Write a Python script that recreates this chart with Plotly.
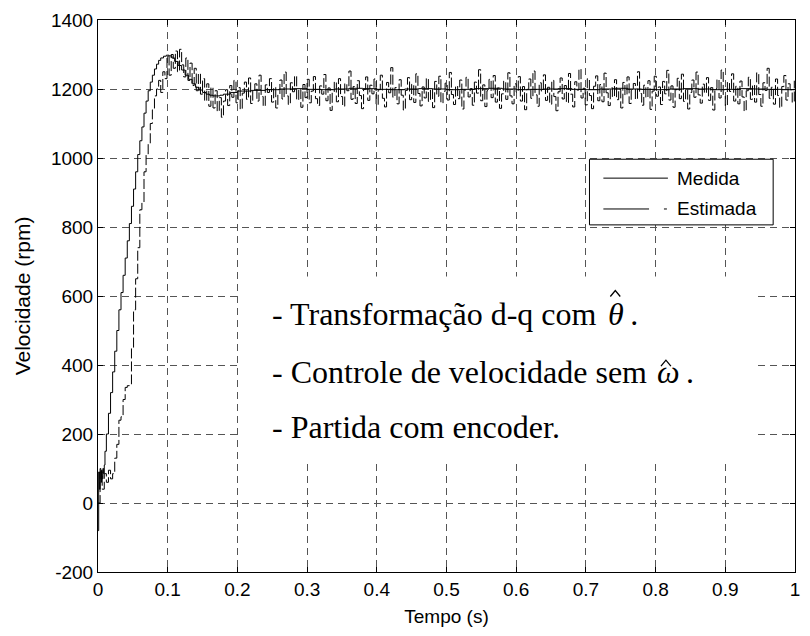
import numpy as np
import plotly.graph_objects as go

# ---- data -------------------------------------------------------------
# measured speed (rpm): start-up transient
medida_t = [0.000, 0.001, 0.002, 0.003, 0.004, 0.005, 0.006, 0.007, 0.008, 0.009,
            0.010, 0.012, 0.015, 0.018, 0.021, 0.024, 0.027, 0.030, 0.033, 0.036,
            0.039, 0.042, 0.045, 0.048, 0.051, 0.054, 0.057, 0.060, 0.063, 0.066,
            0.069, 0.072, 0.075, 0.078, 0.081, 0.084, 0.087, 0.090, 0.094, 0.098,
            0.102, 0.106, 0.110, 0.115, 0.120, 0.125, 0.130, 0.135, 0.140, 0.145,
            0.150, 0.155, 0.160, 0.165, 0.170, 0.175, 0.180, 0.190, 0.200]
medida_v = [-80, 90, 40, 100, 60, 95, 70, 100, 85, 110,
            150, 200, 260, 320, 380, 440, 500, 560, 610, 660,
            710, 760, 810, 860, 910, 960, 1010, 1050, 1090, 1130,
            1165, 1195, 1220, 1240, 1258, 1272, 1283, 1290, 1295, 1298,
            1296, 1290, 1280, 1268, 1255, 1240, 1228, 1215, 1205, 1197,
            1190, 1185, 1182, 1180, 1180, 1182, 1185, 1190, 1194]
# measured speed (rpm): steady state, every 20 ms from 0.22 s
medida_ss_v = [1196, 1198, 1200, 1201, 1199, 1198, 1200, 1202, 1201, 1199,
               1198, 1200, 1201, 1200, 1198, 1199, 1201, 1202, 1200, 1198,
               1199, 1200, 1201, 1199, 1198, 1200, 1202, 1200, 1199, 1198,
               1200, 1201, 1200, 1198, 1199, 1201, 1200, 1199, 1198, 1200]

# estimated speed (rpm), sampled every 3 ms from t = 0
estimada_v = [
    0, 90, 40, 85, 60, 95, 70, 85, 130, 170,
    240, 250, 300, 335, 340, 345, 450, 560, 650, 740,
    850, 870, 960, 1010, 1040, 1100, 1140, 1180, 1200, 1225,
    1190, 1250, 1230, 1295, 1240, 1300, 1260, 1310, 1250, 1315,
    1270, 1235, 1290, 1225, 1275, 1210, 1260, 1195, 1245, 1185,
    1230, 1165, 1215, 1150, 1205, 1145, 1195, 1135, 1175, 1118,
    1165,
    1198, 1152, 1210, 1176, 1225, 1160, 1204, 1141, 1188, 1220, 1170, 1232, 1158, 1196, 1215,
    1165, 1240, 1178, 1150, 1212, 1190, 1230, 1162, 1205, 1145, 1183, 1226, 1171, 1249, 1180,
    1155, 1218, 1192, 1238, 1168, 1200, 1147, 1213, 1175, 1228, 1160, 1194, 1236, 1172, 1152,
    1209, 1185, 1242, 1166, 1203, 1138, 1190, 1221, 1163, 1230, 1178, 1150, 1216, 1195, 1252,
    1170, 1207, 1158, 1224, 1181, 1143, 1199, 1235, 1167, 1211, 1186, 1229, 1154, 1198, 1240,
    1173, 1148, 1219, 1189, 1262, 1176, 1204, 1157, 1227, 1182, 1139, 1196, 1233, 1169, 1214,
    1161, 1244, 1187, 1151, 1206, 1174, 1231, 1164, 1200, 1146, 1222, 1179, 1237, 1159, 1193,
    1217, 1168, 1248, 1184, 1155, 1209, 1172, 1226, 1142, 1197, 1234, 1177, 1201, 1153, 1220,
    1188, 1256, 1166, 1212, 1149, 1195, 1228, 1175, 1239, 1162, 1203, 1144, 1186, 1223, 1170,
    1247, 1180, 1157, 1215, 1191, 1236, 1165, 1207, 1140, 1199, 1229, 1173, 1252, 1183, 1150,
    1218, 1194, 1241, 1167, 1205, 1156, 1225, 1178, 1137, 1192, 1232, 1171, 1210, 1160, 1245,
    1185, 1148, 1221, 1197, 1258, 1174, 1202, 1154, 1230, 1181, 1143, 1208, 1238, 1166, 1213,
    1163, 1246, 1189, 1152, 1204, 1177, 1227, 1169, 1199, 1145, 1219, 1182, 1235, 1158, 1196,
    1216, 1170, 1250, 1187, 1153, 1211, 1175, 1224, 1141, 1194, 1237, 1179, 1206, 1155, 1222,
    1186, 1254, 1168, 1209, 1147, 1198, 1231, 1172, 1243, 1164, 1200, 1142, 1190, 1226, 1176,
    1249, 1183, 1159, 1214, 1188, 1233, 1167, 1204, 1139, 1201, 1228, 1174, 1255, 1180, 1151,
    1220, 1193, 1244, 1165, 1208, 1157, 1223, 1177, 1136, 1195, 1234, 1170, 1212, 1162, 1247,
    1184, 1150, 1218, 1196, 1260, 1173, 1205, 1156, 1229, 1181, 1146, 1207, 1239, 1168, 1215,
    1198, 1161, 1224,
]

x_ticks = [0, 0.1, 0.2, 0.3, 0.4, 0.5, 0.6, 0.7, 0.8, 0.9, 1]
x_labels = ["0", "0.1", "0.2", "0.3", "0.4", "0.5", "0.6", "0.7", "0.8", "0.9", "1"]
y_ticks = [-200, 0, 200, 400, 600, 800, 1000, 1200, 1400]
y_labels = ["-200", "0", "200", "400", "600", "800", "1000", "1200", "1400"]

# ---- time bases -----------------------------------------------------
medida_x = medida_t + list(np.round(np.arange(0.22, 1.0001, 0.02), 3))
medida_y = medida_v + medida_ss_v
estimada_x = np.round(np.arange(len(estimada_v)) * 0.003, 3)

# ---- layout geometry (pixels) -----------------------------------------
W, H = 810, 636
ML, MR, MT, MB = 98, 10, 17, 64
PW, PH = W - ML - MR, H - MT - MB


def px(x):
    return (x - ML) / PW


def py(y):
    return (H - MB - y) / PH


SANS = "Liberation Sans, Arial, sans-serif"
SERIF = "Liberation Serif, Times New Roman, serif"

fig = go.Figure()
fig.add_trace(go.Scatter(x=medida_x, y=medida_y, mode="lines", name="Medida",
                         line=dict(color="black", width=1, shape="hv"),
                         showlegend=False))
fig.add_trace(go.Scatter(x=estimada_x, y=estimada_v, mode="lines", name="Estimada",
                         line=dict(color="black", width=1, shape="hv", dash="10px,3px"),
                         showlegend=False))

axis_common = dict(
    showline=True, linecolor="black", linewidth=1, mirror="allticks",
    ticks="inside", ticklen=5, tickcolor="black",
    showgrid=True, gridcolor="#555555", gridwidth=1, griddash="7px,5px",
    zeroline=False, tickfont=dict(family=SANS, size=19, color="black"),
)
fig.update_xaxes(range=[0, 1], tickvals=x_ticks, ticktext=x_labels,
                 title=dict(text="Tempo (s)", font=dict(family=SANS, size=19, color="black"),
                            standoff=10),
                 **axis_common)
fig.update_yaxes(range=[-200, 1400], tickvals=y_ticks, ticktext=y_labels,
                 title=dict(text="Velocidade (rpm)", font=dict(family=SANS, size=21, color="black"),
                            standoff=14),
                 **axis_common)


def hat(xc, ytop):
    # small circumflex accent drawn as a chevron path
    return dict(type="path", xref="paper", yref="paper",
                path=f"M {px(xc - 5)},{py(ytop + 6)} L {px(xc)},{py(ytop)} L {px(xc + 5)},{py(ytop + 6)}",
                line=dict(color="black", width=1.3), layer="above")


shapes = [
    # blank panel behind the notes
    dict(type="rect", xref="paper", yref="paper", x0=px(240), x1=px(758),
         y0=py(462), y1=py(275), fillcolor="white", line=dict(width=0), layer="above"),
    # legend box
    dict(type="rect", xref="paper", yref="paper", x0=px(593), x1=px(778),
         y0=py(223), y1=py(157), fillcolor="white",
         line=dict(color="black", width=1), layer="above"),
    dict(type="line", xref="paper", yref="paper", x0=px(607), x1=px(672),
         y0=py(176), y1=py(176), line=dict(color="black", width=1), layer="above"),
    dict(type="line", xref="paper", yref="paper", x0=px(607), x1=px(653),
         y0=py(207), y1=py(207), line=dict(color="black", width=1), layer="above"),
    dict(type="line", xref="paper", yref="paper", x0=px(668), x1=px(671),
         y0=py(207), y1=py(207), line=dict(color="black", width=1), layer="above"),
    hat(619, 289),
    hat(670, 359),
]

ann = []
for txt, yc in [("Medida", 176), ("Estimada", 207)]:
    ann.append(dict(text=txt, xref="paper", yref="paper", x=px(679), y=py(yc),
                    xanchor="left", yanchor="middle", showarrow=False,
                    font=dict(family=SANS, size=19, color="black")))

notes = [
    ("- Transformação d-q com", 313),
    ("- Controle de velocidade sem", 371),
    ("- Partida com encoder.", 426),
]
for txt, yc in notes:
    ann.append(dict(text=txt, xref="paper", yref="paper", x=px(271), y=py(yc),
                    xanchor="left", yanchor="middle", showarrow=False,
                    font=dict(family=SERIF, size=32, color="black")))

# italic symbols with their trailing periods
for sym, xl, yc in [("θ", 610, 313), ("ω", 659, 371)]:
    ann.append(dict(text="<i>" + sym + "</i>\u2009.", xref="paper", yref="paper",
                    x=px(xl), y=py(yc), xanchor="left", yanchor="middle",
                    showarrow=False, font=dict(family=SERIF, size=32, color="black")))

fig.update_layout(
    width=W, height=H,
    margin=dict(l=ML, r=MR, t=MT, b=MB),
    paper_bgcolor="white", plot_bgcolor="white",
    shapes=shapes, annotations=ann, showlegend=False,
)

fig.write_html("out.html")
